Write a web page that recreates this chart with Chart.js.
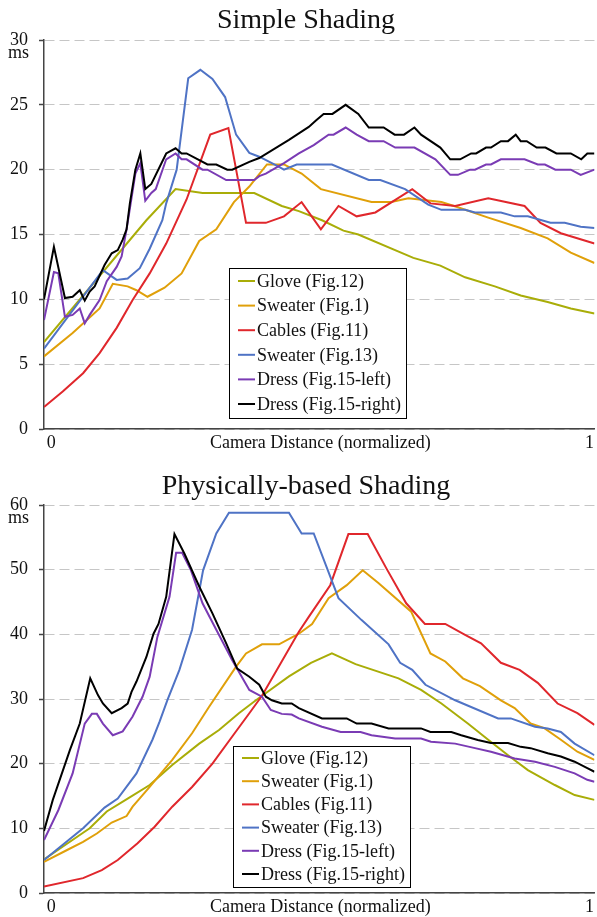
<!DOCTYPE html>
<html lang="en">
<head>
<meta charset="UTF-8">
<title>Simple vs Physically-based Shading</title>
<style>
    body {
        margin: 0;
        background: #fff;
    }
    canvas {
        display: block;
    }
</style>
</head>
<body>

<canvas id="simpleChart" width="597" height="460"></canvas>
<canvas id="pbrChart" width="597" height="457"></canvas>

<script src="https://cdn.jsdelivr.net/npm/chart.js@4"></script>
<script>
    const seriesLabels = ['Glove (Fig.12)', 'Sweater (Fig.1)', 'Cables (Fig.11)', 'Sweater (Fig.13)', 'Dress (Fig.15-left)', 'Dress (Fig.15-right)'];
    const seriesColors = ['#a9ad08', '#e0a00a', '#e0272c', '#4f73c5', '#7a3bb4', '#000000'];
    const xTickLabels = ['0', 'Camera Distance (normalized)', '1'];

    // Simple Shading, [distance, ms]
    const topGlove = [[0,6.7],[0.186,16.1],[0.239,18.5],[0.288,18.2],[0.382,18.2],[0.432,17.2],[0.463,16.8],[0.505,16.1],[0.544,15.3],[0.571,15.0],[0.671,13.2],[0.720,12.6],[0.765,11.7],[0.819,11.0],[0.866,10.3],[0.915,9.8],[0.957,9.3],[1,8.9]];
    const topSweater1 = [[0,5.6],[0.052,7.4],[0.101,9.3],[0.125,11.2],[0.152,11.0],[0.168,10.7],[0.188,10.2],[0.219,10.9],[0.250,12.0],[0.282,14.5],[0.313,15.4],[0.345,17.5],[0.373,18.7],[0.405,20.4],[0.436,20.4],[0.468,19.7],[0.503,18.5],[0.595,17.5],[0.631,17.5],[0.662,17.8],[0.722,17.5],[0.752,17.1],[0.807,16.3],[0.866,15.5],[0.915,14.7],[0.957,13.6],[1,12.8]];
    const topCables = [[0,1.7],[0.034,2.9],[0.071,4.3],[0.101,5.85],[0.132,7.8],[0.161,9.95],[0.192,12.0],[0.222,14.3],[0.259,17.7],[0.302,22.7],[0.335,23.2],[0.367,15.9],[0.403,15.9],[0.436,16.4],[0.468,17.5],[0.503,15.4],[0.535,17.2],[0.568,16.4],[0.602,16.7],[0.669,18.5],[0.702,17.4],[0.747,17.2],[0.807,17.8],[0.873,17.2],[0.902,15.9],[0.939,15.1],[1,14.3]];
    const topSweater13 = [[0,6.2],[0.107,12.25],[0.132,11.5],[0.152,11.6],[0.174,12.4],[0.192,13.9],[0.215,16.1],[0.222,17.4],[0.241,20.0],[0.262,27.05],[0.284,27.7],[0.306,27.0],[0.329,25.6],[0.349,22.7],[0.373,21.3],[0.391,21.0],[0.421,20.35],[0.436,20.0],[0.459,20.4],[0.523,20.4],[0.590,19.2],[0.611,19.2],[0.656,18.5],[0.698,17.3],[0.722,16.9],[0.765,16.9],[0.783,16.7],[0.830,16.7],[0.855,16.4],[0.879,16.4],[0.920,15.9],[0.946,15.9],[0.975,15.6],[1,15.5]];
    const topDressL = [[0,8.4],[0.018,12.1],[0.026,12.0],[0.038,8.65],[0.052,8.8],[0.065,9.3],[0.074,8.15],[0.083,8.8],[0.101,9.95],[0.114,11.4],[0.132,12.5],[0.141,13.3],[0.150,15.4],[0.156,17.0],[0.166,19.7],[0.175,20.5],[0.184,17.6],[0.195,18.2],[0.203,18.5],[0.222,20.8],[0.239,21.25],[0.250,20.8],[0.259,20.8],[0.288,20.0],[0.297,20.0],[0.331,19.2],[0.382,19.2],[0.391,19.5],[0.403,19.7],[0.436,20.5],[0.463,21.25],[0.490,21.9],[0.517,22.7],[0.526,22.7],[0.548,23.25],[0.568,22.7],[0.590,22.2],[0.617,22.2],[0.638,21.7],[0.673,21.7],[0.711,20.8],[0.738,19.6],[0.752,19.6],[0.774,20.0],[0.783,20.0],[0.803,20.4],[0.812,20.4],[0.830,20.8],[0.873,20.8],[0.897,20.4],[0.910,20.4],[0.929,20.0],[0.957,20.0],[0.975,19.6],[1,20.0]];
    const topDressR = [[0,10.0],[0.018,14.05],[0.038,10.1],[0.052,10.2],[0.065,10.7],[0.074,9.9],[0.083,10.6],[0.092,11.0],[0.110,12.65],[0.123,13.55],[0.134,13.8],[0.143,14.6],[0.150,15.4],[0.156,17.4],[0.166,20.0],[0.175,21.25],[0.184,18.5],[0.195,18.9],[0.222,21.25],[0.239,21.65],[0.250,21.25],[0.259,21.25],[0.297,20.4],[0.313,20.4],[0.333,20.0],[0.342,20.0],[0.373,20.6],[0.391,20.9],[0.445,22.3],[0.463,22.8],[0.481,23.3],[0.494,23.8],[0.508,24.3],[0.524,24.3],[0.548,25.0],[0.571,24.3],[0.590,23.25],[0.617,23.25],[0.637,22.7],[0.654,22.7],[0.673,23.25],[0.685,22.7],[0.720,21.7],[0.738,20.8],[0.756,20.8],[0.776,21.25],[0.785,21.25],[0.803,21.7],[0.812,21.7],[0.830,22.2],[0.843,22.2],[0.857,22.7],[0.866,22.2],[0.877,22.2],[0.895,21.7],[0.911,21.7],[0.931,21.25],[0.957,21.25],[0.976,20.8],[0.987,21.25],[1,21.25]];

    // Physically-based Shading, [distance, ms]
    const botGlove = [[0,5.2],[0.069,9.2],[0.083,10.0],[0.114,12.6],[0.152,14.6],[0.192,16.7],[0.233,19.8],[0.282,23.1],[0.318,25.2],[0.354,27.8],[0.385,29.8],[0.445,33.5],[0.485,35.6],[0.523,37.05],[0.566,35.4],[0.644,33.2],[0.685,31.4],[0.722,29.3],[0.770,26.2],[0.807,23.7],[0.843,21.3],[0.879,19.0],[0.928,16.7],[0.964,15.15],[1,14.4]];
    const botSweater1 = [[0,4.8],[0.042,6.65],[0.071,7.9],[0.096,9.2],[0.123,10.9],[0.150,11.9],[0.161,13.35],[0.192,16.4],[0.233,20.6],[0.269,24.7],[0.300,28.8],[0.349,35.0],[0.367,37.05],[0.396,38.45],[0.427,38.45],[0.463,40.1],[0.487,41.6],[0.517,45.6],[0.550,47.6],[0.579,49.9],[0.608,47.9],[0.667,43.5],[0.702,37.05],[0.729,35.8],[0.761,33.2],[0.792,32.0],[0.830,29.8],[0.855,28.6],[0.884,26.2],[0.909,25.5],[0.939,23.7],[0.969,21.85],[1,20.6]];
    const botCables = [[0,1.0],[0.071,2.3],[0.105,3.55],[0.134,5.1],[0.170,7.7],[0.201,10.25],[0.233,13.35],[0.269,16.4],[0.306,20.0],[0.342,24.2],[0.373,27.8],[0.396,30.5],[0.463,40.4],[0.481,42.7],[0.520,47.6],[0.553,55.5],[0.588,55.5],[0.622,50.2],[0.658,44.8],[0.692,41.6],[0.729,41.6],[0.765,39.9],[0.794,38.6],[0.830,35.6],[0.864,34.5],[0.897,32.5],[0.933,29.3],[0.969,27.8],[1,26.0]];
    const botSweater13 = [[0,5.1],[0.071,10.0],[0.110,13.2],[0.134,14.6],[0.168,18.5],[0.197,23.7],[0.210,26.5],[0.224,29.8],[0.246,34.5],[0.269,40.7],[0.289,49.9],[0.313,55.6],[0.336,58.8],[0.445,58.8],[0.468,55.6],[0.490,55.6],[0.535,45.6],[0.577,42.2],[0.626,38.45],[0.647,35.6],[0.669,34.5],[0.693,32.2],[0.747,29.8],[0.825,27.0],[0.848,27.0],[0.892,25.7],[0.915,25.45],[0.939,24.9],[0.964,23.1],[1,21.3]];
    const botDressL = [[0,8.2],[0.026,12.8],[0.052,18.5],[0.074,26.2],[0.087,27.7],[0.096,27.7],[0.107,26.2],[0.125,24.4],[0.143,25.0],[0.161,27.3],[0.179,30.35],[0.192,33.45],[0.206,39.6],[0.228,45.8],[0.240,52.6],[0.251,52.6],[0.267,49.9],[0.288,44.8],[0.313,40.7],[0.342,36.0],[0.373,31.4],[0.396,30.35],[0.412,28.3],[0.432,27.7],[0.450,27.6],[0.463,27.0],[0.505,25.7],[0.539,24.9],[0.575,24.9],[0.595,24.4],[0.638,23.9],[0.685,23.9],[0.703,23.4],[0.747,23.1],[0.783,22.4],[0.812,21.85],[0.855,20.8],[0.892,20.3],[0.928,19.5],[0.964,18.5],[0.987,17.5],[1,17.2]];
    const botDressR = [[0,9.6],[0.016,14.4],[0.047,22.1],[0.065,26.2],[0.084,33.2],[0.098,30.6],[0.107,29.3],[0.123,27.8],[0.141,28.6],[0.152,29.3],[0.159,31.1],[0.168,32.7],[0.186,36.5],[0.199,40.1],[0.208,41.6],[0.222,45.8],[0.237,55.5],[0.255,52.5],[0.282,47.4],[0.306,43.25],[0.331,38.6],[0.351,34.7],[0.373,33.45],[0.391,32.2],[0.403,30.35],[0.414,29.8],[0.432,29.3],[0.450,29.3],[0.463,28.6],[0.505,27.0],[0.550,27.0],[0.568,26.2],[0.595,26.2],[0.626,25.45],[0.685,25.45],[0.702,24.9],[0.740,24.9],[0.758,24.4],[0.788,23.65],[0.812,23.2],[0.843,23.2],[0.866,22.6],[0.884,22.4],[0.915,21.6],[0.939,21.1],[0.964,20.3],[0.987,19.3],[1,18.75]];

    const serif = "'Liberation Serif', 'Times New Roman', serif";
    const inkColor = '#111';
    const axisColor = '#444';

    // title, "ms" unit and the boxed legend inside the plot
    const decorations = {
        id: 'decorations',
        afterDraw(chart, args, opts) {
            const ctx = chart.ctx;
            const yScale = chart.scales.y;
            ctx.save();
            ctx.fillStyle = inkColor;
            ctx.font = '28px ' + serif;
            ctx.textAlign = 'center';
            ctx.textBaseline = 'alphabetic';
            ctx.fillText(opts.title, 306, opts.titleBaseline);

            ctx.font = '18px ' + serif;
            ctx.textAlign = 'right';
            ctx.fillText('ms', 29, yScale.getPixelForValue(yScale.max) + 18);

            const lg = opts.legend;
            ctx.fillStyle = '#fff';
            ctx.fillRect(lg.x, lg.y, lg.w, lg.h);
            ctx.strokeStyle = '#000';
            ctx.lineWidth = 1;
            ctx.strokeRect(lg.x + 0.5, lg.y + 0.5, lg.w, lg.h);
            ctx.textAlign = 'left';
            ctx.textBaseline = 'middle';
            chart.data.datasets.forEach((ds, i) => {
                const ry = lg.firstRow + i * lg.rowGap;
                ctx.strokeStyle = ds.borderColor;
                ctx.lineWidth = 2;
                ctx.beginPath();
                ctx.moveTo(lg.x + 9, ry);
                ctx.lineTo(lg.x + 26, ry);
                ctx.stroke();
                ctx.fillStyle = inkColor;
                ctx.fillText(ds.label, lg.x + 28, ry + 1);
            });
            ctx.restore();
        }
    };

    function makeChart(canvasId, series, yMax, yStep, padTop, xAxisHeight, deco) {
        const datasets = series.map((pts, i) => ({
            label: seriesLabels[i],
            data: pts.map(p => ({ x: p[0], y: p[1] })),
            borderColor: seriesColors[i],
            borderWidth: 2,
            pointRadius: 0,
            tension: 0,
            fill: false,
            order: series.length - i
        }));

        return new Chart(document.getElementById(canvasId), {
            type: 'line',
            data: { datasets: datasets },
            options: {
                responsive: false,
                animation: false,
                devicePixelRatio: 1,
                layout: { padding: { top: padTop, left: 0, right: 0, bottom: 0 } },
                plugins: {
                    legend: { display: false },
                    tooltip: { enabled: false },
                    decorations: deco
                },
                scales: {
                    x: {
                        type: 'linear',
                        min: 0,
                        max: 1,
                        grid: { display: false, drawTicks: false },
                        border: { display: true, color: axisColor, width: 1.5 },
                        afterBuildTicks: scale => {
                            scale.ticks = [0.013, 0.502, 0.991].map(v => ({ value: v }));
                        },
                        afterFit: scale => { scale.height = xAxisHeight; },
                        ticks: {
                            autoSkip: false,
                            maxRotation: 0,
                            padding: 3,
                            color: inkColor,
                            font: { family: serif, size: 18 },
                            callback: (v, i) => xTickLabels[i]
                        }
                    },
                    y: {
                        min: 0,
                        max: yMax,
                        afterFit: scale => { scale.width = 44; },
                        ticks: {
                            stepSize: yStep,
                            padding: 11,
                            color: inkColor,
                            font: { family: serif, size: 18 }
                        },
                        grid: {
                            color: '#c6c6c6',
                            lineWidth: 1,
                            tickColor: axisColor,
                            tickLength: 5,
                            tickWidth: 1.5
                        },
                        border: { display: true, color: axisColor, width: 1.5, dash: [10, 5] }
                    }
                }
            },
            plugins: [decorations]
        });
    }

    makeChart('simpleChart',
        [topGlove, topSweater1, topCables, topSweater13, topDressL, topDressR],
        30, 5, 40, 31,
        {
            title: 'Simple Shading',
            titleBaseline: 28,
            legend: { x: 229, y: 268, w: 177, h: 150, firstRow: 281, rowGap: 24.6 }
        });

    makeChart('pbrChart',
        [botGlove, botSweater1, botCables, botSweater13, botDressL, botDressR],
        60, 10, 45, 24,
        {
            title: 'Physically-based Shading',
            titleBaseline: 34,
            legend: { x: 233, y: 286, w: 177, h: 141, firstRow: 298, rowGap: 23.2 }
        });
</script>

</body>
</html>
